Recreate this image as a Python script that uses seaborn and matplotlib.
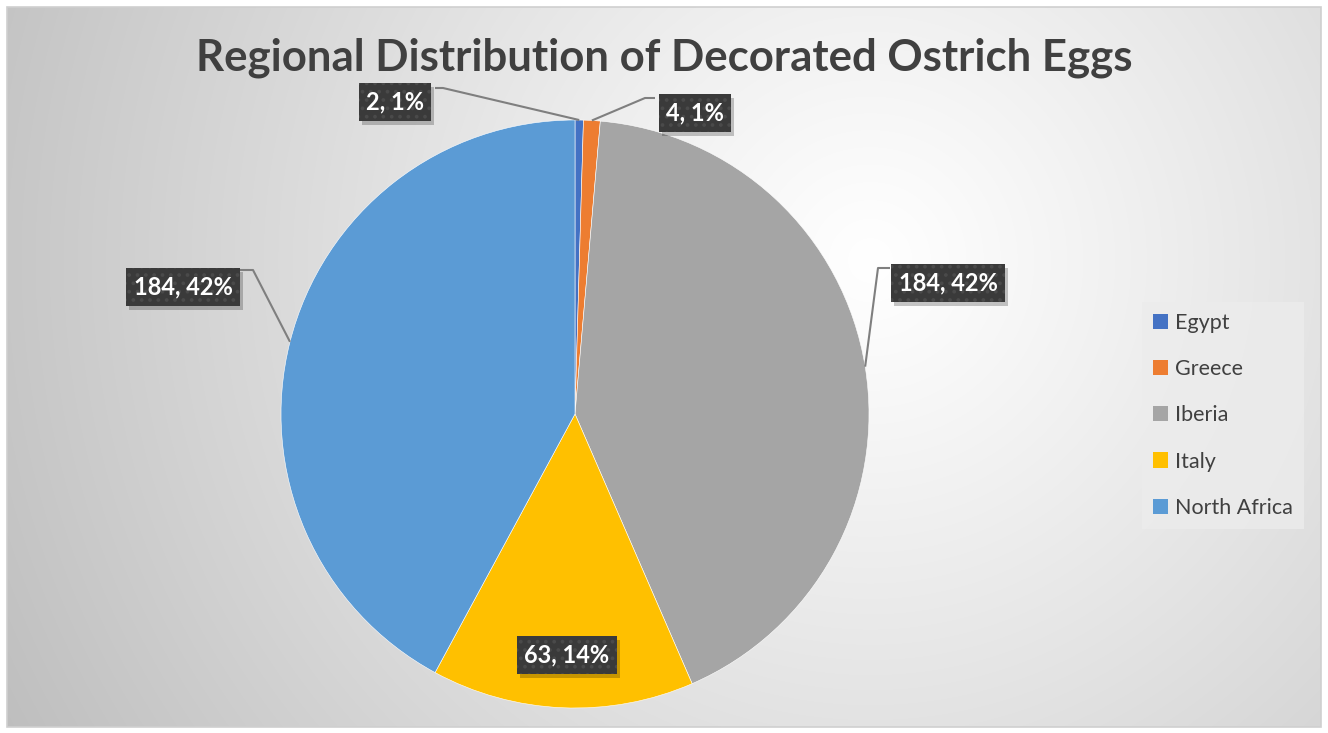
import numpy as np
import matplotlib
matplotlib.use("Agg")
import matplotlib.pyplot as plt
import seaborn as sns
from matplotlib.patches import Rectangle

# ---- data ----
regions = ["Egypt", "Greece", "Iberia", "Italy", "North Africa"]
counts = [2, 4, 184, 63, 184]
percent_labels = ["1%", "1%", "42%", "14%", "42%"]
colors = ["#4472C4", "#ED7D31", "#A5A5A5", "#FFC000", "#5B9BD5"]
title = "Regional Distribution of Decorated Ostrich Eggs"

sns.set_theme(style="white")
plt.rcParams["font.family"] = ["Lato", "DejaVu Sans"]
plt.rcParams["hatch.linewidth"] = 1.5

W, H = 1328, 733
fig = plt.figure(figsize=(W / 100, H / 100), dpi=100)
fig.patch.set_facecolor("white")
ax = fig.add_axes([0, 0, 1, 1])

# radial gradient background inside the chart frame
fx0, fy0, fx1, fy1 = 7, 7, 1321, 727
yy, xx = np.mgrid[fy0:fy1, fx0:fx1]
d = np.hypot(xx - 870, yy - 260)
v = np.clip(1.0 - 0.23 * (d / 900.0) ** 1.1, 0, 1)
img = np.dstack([v, v, v])
ax.imshow(img, extent=(fx0, fx1, H - fy1, H - fy0), origin="upper",
          zorder=0, interpolation="bilinear")
ax.add_patch(Rectangle((fx0, H - fy1), fx1 - fx0, fy1 - fy0, fill=False,
                       ec="#cfcfcf", lw=1.2, zorder=1))

# pie
cx, cy, R = 575, H - 414, 294
palette = sns.color_palette(colors)
wedges, _ = ax.pie(counts, colors=palette, startangle=90, counterclock=False,
                   center=(cx, cy), radius=R, frame=True,
                   wedgeprops=dict(linewidth=0.4, edgecolor="white"))
for w in wedges:
    w.set_zorder(2)

ax.set_xlim(0, W)
ax.set_ylim(0, H)
ax.set_aspect("auto")
ax.axis("off")

# labels (layout positions in pixels: text centre, elbow, box-edge)
label_layout = [
    dict(text=(395, 102), path=[(435, 88), (443, 88)]),
    dict(text=(695, 113), path=[(655, 98), (645, 98)]),
    dict(text=(948, 283), path=[(890, 268), (878, 268)]),
    dict(text=(567, 655), path=None),
    dict(text=(183, 287), path=[(240, 270), (253, 270)]),
]
total = sum(counts)
cum = 0
label_texts = []
for i, (c, p) in enumerate(zip(counts, percent_labels)):
    mid = 90 - (cum + c / 2) / total * 360
    cum += c
    lay = label_layout[i]
    tx, ty = lay["text"]
    ty = H - ty
    s = f"{c}, {p}"
    if lay["path"] is not None:
        ax_x = cx + R * np.cos(np.radians(mid))
        ax_y = cy + R * np.sin(np.radians(mid))
        pts = [(x, H - y) for x, y in lay["path"]] + [(ax_x, ax_y)]
        ax.plot([q[0] for q in pts], [q[1] for q in pts], color="#7f7f7f",
                lw=1.5, zorder=3, solid_capstyle="butt")
    t = ax.text(tx, ty, s, ha="center", va="center", fontsize=17,
                fontweight="bold", color="white", zorder=5,
                bbox=dict(boxstyle="square,pad=0.3", fc="#3a3a3a", ec="#4a4a4a",
                          lw=0, hatch=".."))
    label_texts.append(t)

# drop shadows behind label boxes
fig.canvas.draw()
inv = ax.transData.inverted()
for t in label_texts:
    bb = t.get_bbox_patch().get_window_extent()
    (x0, y0), (x1, y1) = inv.transform([(bb.x0, bb.y0), (bb.x1, bb.y1)])
    ax.add_patch(Rectangle((x0 + 3, y0 - 4), x1 - x0, y1 - y0,
                           fc=(0, 0, 0, 0.22), ec="none", zorder=4.5))

# title
ax.text(664, H - 58, title, ha="center", va="center", fontsize=31.5,
        fontweight="bold", color="#404040", zorder=5)

# legend
leg = ax.legend(wedges, regions, loc="upper left",
                bbox_to_anchor=(1142, H - 302), bbox_transform=ax.transData,
                frameon=True, fancybox=False, fontsize=15.5,
                handlelength=0.7, handleheight=0.7, handletextpad=0.35,
                labelspacing=1.22, borderpad=0.5, borderaxespad=0)
frame = leg.get_frame()
frame.set_facecolor("#ececec")
frame.set_alpha(0.8)
frame.set_edgecolor("none")
for tx_ in leg.get_texts():
    tx_.set_color("#404040")
for h in leg.legend_handles:
    h.set_edgecolor("none")

fig.savefig("out.png", dpi=100)
